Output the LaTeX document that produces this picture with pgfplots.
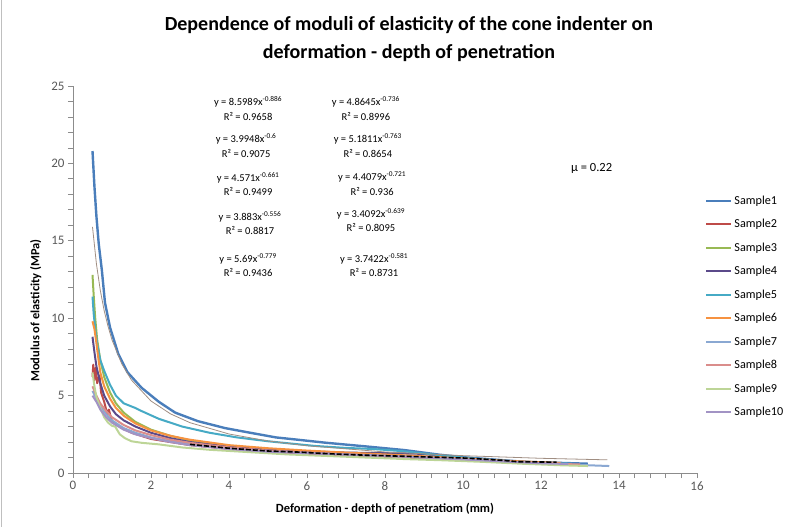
\documentclass[border=0pt]{standalone}
\usepackage{pgfplots}
\pgfplotsset{compat=1.18}
\usepackage{fontspec}
\setmainfont{Carlito}
\definecolor{sa}{HTML}{4A7EBB}
\definecolor{sb}{HTML}{BE4B48}
\definecolor{sc}{HTML}{98B954}
\definecolor{sd}{HTML}{5B4A8A}
\definecolor{se}{HTML}{46AAC5}
\definecolor{sf}{HTML}{F69240}
\definecolor{sg}{HTML}{8AA8D2}
\definecolor{sh}{HTML}{DA8D8B}
\definecolor{si}{HTML}{BDD597}
\definecolor{sj}{HTML}{A293C4}
\definecolor{trend}{HTML}{A08E82}
\definecolor{axgray}{HTML}{8C8C8C}
\definecolor{lblgray}{HTML}{595959}
\begin{document}
\begin{tikzpicture}
\useasboundingbox (-73pt,-54pt) rectangle (714pt,473pt);
\draw[gray!50, line width=1pt] (-71.5pt,-54pt) -- (-71.5pt,473pt);
\begin{axis}[
  scale only axis, width=624pt, height=387pt,
  xmin=0, xmax=16, ymin=0, ymax=25,
  xtick={0,2,...,16}, ytick={0,5,...,25},
  minor x tick num=4, minor y tick num=4,
  axis x line=bottom, axis y line=left,
  axis line style={axgray, -, line width=0.8pt},
  tick style={axgray, line width=0.8pt},
  tick align=outside, major tick length=5pt, minor tick length=5pt,
  /pgf/number format/assume math mode=true,
  ticklabel style={font=\fontsize{13}{15}\selectfont, text=lblgray},
  xlabel={\textbf{Deformation - depth of penetratiom (mm)}},
  ylabel={\textbf{Modulus of elasticity (MPa)}},
  label style={font=\fontsize{12.5}{15}\selectfont},
  xlabel style={at={(axis description cs:0.5,0)}, anchor=north, yshift=-27pt},
  ylabel style={at={(axis description cs:-0.045,0.42)}, anchor=south},
  clip=false,
  legend style={at={(axis cs:16.2,18.05)}, anchor=north west, draw=none, fill=none,
    font=\fontsize{12.2}{14}\selectfont, row sep=9.5pt, inner sep=0pt},
  legend cell align=left,
  legend image code/.code={\draw[#1] (0pt,0pt) -- (25pt,0pt);},
  every axis plot/.append style={line width=2pt, line join=round},
]
\addplot[sa, line width=2.4pt] coordinates {(0.5,20.8)(0.55,18.5)(0.6,16.6)(0.66,14.8)(0.74,13.1)(0.82,11.0)(0.95,9.4)(1.16,7.7)(1.4,6.5)(1.76,5.5)(2.2,4.6)(2.62,3.9)(3.2,3.35)(3.9,2.9)(4.5,2.62)(5.2,2.3)(5.8,2.14)(6.5,1.95)(7.5,1.72)(8.5,1.48)(9.4,1.18)(10.1,1.0)(11.0,0.83)(11.6,0.72)(12.4,0.66)(13.2,0.6)};
\addlegendentry{Sample1}
\addplot[sb] coordinates {(0.5,6.2)(0.52,7.0)(0.55,6.0)(0.58,6.8)(0.62,5.8)(0.68,6.3)(0.72,5.2)(0.8,4.6)(0.88,3.8)(0.92,4.1)(1.0,3.3)(1.2,3.0)(1.5,2.6)(2,2.2)(3,1.8)(4,1.55)(5,1.38)(6,1.25)(7,1.12)(8,1.0)(9,0.92)(10,0.82)(11,0.72)(11.8,0.65)};
\addlegendentry{Sample2}
\addplot[sc] coordinates {(0.5,12.8)(0.53,11.5)(0.57,10.0)(0.62,8.6)(0.7,7.3)(0.8,6.2)(0.95,5.2)(1.1,4.5)(1.3,3.9)(1.6,3.3)(2,2.8)(2.5,2.4)(3,2.1)(4,1.75)(5,1.5)(6,1.35)(7,1.22)(8,1.1)(9,1.0)(10,0.88)(11,0.75)(12,0.62)(12.8,0.55)};
\addlegendentry{Sample3}
\addplot[sd] coordinates {(0.5,8.8)(0.55,7.8)(0.6,6.9)(0.7,5.8)(0.8,5.0)(0.95,4.3)(1.1,3.8)(1.3,3.4)(1.6,3.0)(2,2.6)(2.5,2.25)(3,2.0)(4,1.7)(5,1.5)(6,1.4)(7,1.32)(8,1.28)(8.8,1.25)(9.5,1.1)(10.2,0.92)(11,0.78)(12,0.66)(12.6,0.6)};
\addlegendentry{Sample4}
\addplot[se] coordinates {(0.5,11.4)(0.53,10.3)(0.57,9.3)(0.62,8.3)(0.7,7.3)(0.8,6.6)(0.95,5.7)(1.1,5.0)(1.3,4.5)(1.6,4.2)(1.76,4.0)(2.2,3.5)(2.8,3.0)(3.5,2.6)(4.2,2.3)(5,2.05)(6.2,1.75)(7,1.62)(7.7,1.55)(8.5,1.4)(9.4,1.15)(10.2,0.95)(11,0.8)(12,0.68)(12.8,0.6)};
\addlegendentry{Sample5}
\addplot[sf] coordinates {(0.5,9.8)(0.55,9.3)(0.6,8.4)(0.65,7.4)(0.7,6.5)(0.8,5.6)(0.95,4.8)(1.1,4.2)(1.3,3.7)(1.6,3.2)(2,2.75)(2.5,2.4)(3,2.15)(4,1.8)(5,1.6)(6,1.45)(7,1.32)(8,1.2)(9,1.08)(10,0.94)(11,0.8)(12,0.7)(12.5,0.65)};
\addlegendentry{Sample6}
\addplot[sg] coordinates {(0.5,5.3)(0.6,4.8)(0.7,4.3)(0.85,3.8)(1,3.4)(1.3,2.9)(1.6,2.6)(2,2.3)(2.5,2.05)(3,1.85)(4,1.6)(5,1.42)(6,1.3)(7,1.18)(8,1.08)(9,1.0)(10,0.88)(11,0.75)(12,0.62)(13,0.52)(13.75,0.45)};
\addlegendentry{Sample7}
\addplot[sh] coordinates {(0.5,5.6)(0.6,5.0)(0.7,4.5)(0.85,4.0)(1,3.6)(1.3,3.1)(1.6,2.75)(2,2.45)(2.5,2.15)(3,1.95)(4,1.65)(5,1.45)(6,1.32)(7,1.2)(8,1.1)(9,1.0)(10,0.88)(11,0.74)(12,0.62)(13,0.55)};
\addlegendentry{Sample8}
\addplot[si] coordinates {(0.5,6.5)(0.55,5.6)(0.6,4.9)(0.7,4.2)(0.8,3.6)(0.9,3.25)(1.0,3.05)(1.08,3.0)(1.2,2.5)(1.33,2.25)(1.5,2.05)(1.76,1.95)(2.2,1.85)(2.8,1.65)(3.5,1.5)(4.5,1.35)(5.5,1.2)(6.5,1.1)(7.5,1.0)(8.5,0.9)(9.5,0.82)(10.5,0.72)(11.5,0.6)(12.5,0.5)(13.2,0.45)};
\addlegendentry{Sample9}
\addplot[sj] coordinates {(0.5,5.0)(0.6,4.6)(0.7,4.1)(0.85,3.6)(1,3.25)(1.3,2.8)(1.6,2.5)(2,2.25)(2.5,2.0)(3,1.8)(4,1.55)(5,1.38)(6,1.28)(7,1.2)(8,1.12)(9,1.0)(10,0.88)(11,0.75)(12,0.63)(12.7,0.58)};
\addlegendentry{Sample10}
\addplot[black, line width=1.6pt, dash pattern=on 5pt off 2pt, forget plot] coordinates {(3,1.85)(4,1.6)(5,1.42)(5.8,1.35)(6.5,1.25)(7.5,1.15)(8.5,1.08)(9.3,1.02)(10.1,0.96)(11,0.82)(11.4,0.73)(12.4,0.7)};
\addplot[trend, line width=0.8pt, forget plot] coordinates {(0.5,15.9)(0.6,13.52)(0.7,11.80)(0.8,10.48)(0.9,9.46)(1.0,8.60)(1.25,7.05)(1.5,6.00)(2,4.65)(2.5,3.82)(3,3.25)(4,2.52)(5,2.07)(6,1.76)(8,1.36)(10,1.12)(12,0.95)(13.7,0.85)};
\tikzset{eq/.style={font=\fontsize{10.5}{14.5}\selectfont, align=center}}
\node[eq] at (axis cs:4.49,23.55) {y = 8.5989x\textsuperscript{-0.886}\\R² = 0.9658};
\node[eq] at (axis cs:7.51,23.55) {y = 4.8645x\textsuperscript{-0.736}\\R² = 0.8996};
\node[eq] at (axis cs:4.44,21.16) {y = 3.9948x\textsuperscript{-0.6}\\R² = 0.9075};
\node[eq] at (axis cs:7.56,21.16) {y = 5.1811x\textsuperscript{-0.763}\\R² = 0.8654};
\node[eq] at (axis cs:4.49,18.68) {y = 4.571x\textsuperscript{-0.661}\\R² = 0.9499};
\node[eq] at (axis cs:7.67,18.68) {y = 4.4079x\textsuperscript{-0.721}\\R² = 0.936};
\node[eq] at (axis cs:4.54,16.16) {y = 3.883x\textsuperscript{-0.556}\\R² = 0.8817};
\node[eq] at (axis cs:7.64,16.35) {y = 3.4092x\textsuperscript{-0.639}\\R² = 0.8095};
\node[eq] at (axis cs:4.49,13.42) {y = 5.69x\textsuperscript{-0.779}\\R² = 0.9436};
\node[eq] at (axis cs:7.72,13.42) {y = 3.7422x\textsuperscript{-0.581}\\R² = 0.8731};
\node[font=\fontsize{12.5}{14}\selectfont] at (axis cs:13.3,19.7) {μ = 0.22};
\end{axis}
\node[font=\bfseries\fontsize{20}{28}\selectfont, align=center] at (336pt,434pt) {Dependence of moduli of elasticity of the cone indenter on\\deformation - depth of penetration};
\end{tikzpicture}
\end{document}
